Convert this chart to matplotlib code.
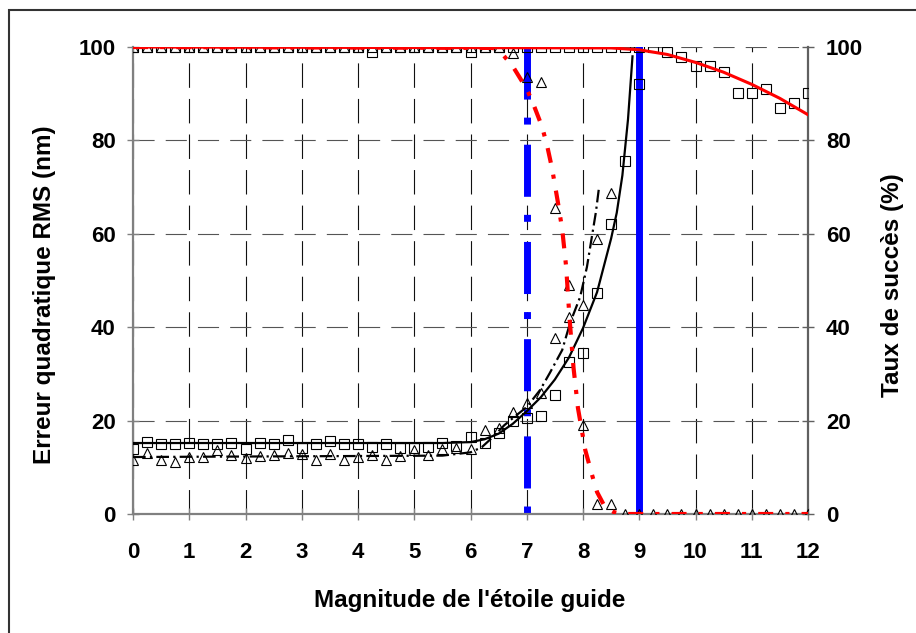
import matplotlib
matplotlib.use("Agg")
import matplotlib.pyplot as plt
from matplotlib.patches import Rectangle

plt.rcParams['font.family'] = ['Liberation Sans', 'DejaVu Sans']
plt.rcParams['font.weight'] = 'bold'

# magnitudes (pas de 0.25)
mag = [0, 0.25, 0.5, 0.75, 1, 1.25, 1.5, 1.75, 2, 2.25, 2.5, 2.75, 3, 3.25, 3.5, 3.75,
       4, 4.25, 4.5, 4.75, 5, 5.25, 5.5, 5.75, 6, 6.25, 6.5, 6.75, 7, 7.25, 7.5, 7.75,
       8, 8.25, 8.5, 8.75, 9, 9.25, 9.5, 9.75, 10, 10.25, 10.5, 10.75, 11, 11.25, 11.5,
       11.75, 12]

# erreur RMS - carrés (0 à 9)
rms_carres = [13.9, 15.4, 15.0, 15.0, 15.3, 15.0, 15.0, 15.3, 13.9, 15.3, 15.0, 15.8,
              14.2, 15.0, 15.6, 15.0, 15.0, 14.4, 15.0, 14.2, 14.2, 14.4, 15.3, 14.6,
              16.4, 15.1, 17.3, 20.0, 20.5, 21.0, 25.5, 32.5, 34.5, 47.3, 62.0, 75.6, 92.0]
# erreur RMS - triangles (0 à 8.5)
rms_triangles = [11.6, 13.1, 11.6, 11.1, 12.2, 12.2, 13.7, 12.6, 12.0, 12.5, 12.6, 13.1,
                 12.9, 11.6, 12.8, 11.6, 12.3, 12.6, 11.6, 12.5, 13.8, 12.6, 13.9, 14.1,
                 13.9, 18.0, 18.4, 21.9, 23.8, 25.9, 37.7, 42.2, 44.7, 58.9, 68.7]

# taux de succès (0 à 12)
succes_carres = [100, 100, 100, 100, 100, 100, 100, 100, 100, 100, 100, 100, 100, 100,
                 100, 100, 100, 99, 100, 100, 100, 100, 100, 100, 99, 100, 100, 100, 100,
                 100, 100, 100, 100, 100, 100, 100, 100, 100, 98.9, 97.9, 95.9, 95.9,
                 94.7, 90.1, 90.1, 91.0, 86.9, 88.0, 90.1]
succes_triangles = [100, 100, 100, 100, 100, 100, 100, 100, 100, 100, 100, 100, 100, 100,
                    100, 100, 100, 100, 100, 100, 100, 100, 100, 100, 100, 100, 100, 98.7,
                    93.6, 92.5, 65.5, 49.0, 19.0, 2.1, 2.1, 0, 0, 0, 0, 0, 0, 0, 0, 0, 0,
                    0, 0, 0, 0]

# courbes d'ajustement
fit_rms_carres_x = [0, 5.5, 6.0, 6.25, 6.5, 6.75, 7.0, 7.25, 7.5, 7.75, 8.0, 8.25, 8.5,
                    8.6, 8.7, 8.8, 8.88]
fit_rms_carres_y = [15.2, 15.2, 15.4, 16.0, 17.2, 19.3, 22.0, 25.0, 28.8, 33.5, 39.8,
                    47.5, 59.0, 64.5, 72.5, 84.5, 98.0]
fit_rms_tri_x = [0, 5.5, 6.0, 6.2, 6.4, 6.6, 6.8, 7.0, 7.24, 7.41, 7.63, 7.77, 7.95,
                 8.07, 8.23, 8.28]
fit_rms_tri_y = [12.2, 12.5, 13.2, 14.3, 16.5, 19.0, 21.0, 22.9, 26.6, 30.2, 35.1, 40.9,
                 46.5, 52.9, 64.7, 69.5]
fit_succ_carres_x = [0, 8.5, 9.0, 9.5, 10.0, 10.5, 11.0, 11.5, 12.0]
fit_succ_carres_y = [100, 99.8, 99.4, 98.4, 96.7, 94.6, 92.0, 89.0, 85.5]
fit_succ_tri_x = [0, 6.4, 6.58, 6.76, 7.0, 7.11, 7.27, 7.36, 7.45, 7.55, 7.63, 7.7, 7.76,
                  7.83, 7.91, 8.04, 8.16, 8.25, 8.39, 8.55, 8.7, 12]
fit_succ_tri_y = [100, 99.8, 98.3, 95.7, 91, 88, 83, 79, 74, 67, 61, 53, 42, 31.5, 22.7,
                  13.7, 8.4, 4.7, 1.5, 0.4, 0, 0]

# magnitudes limites
mag_limite_tri = 7
mag_limite_carres = 9

fig = plt.figure(figsize=(9.16, 6.33), dpi=100)
ax = fig.add_axes([133 / 916, 1 - 514 / 633, 675 / 916, 467 / 633])
ax2 = ax.twinx()

# grille
ax.set_axisbelow(True)
ax.xaxis.grid(True, color='#111111', lw=0.8, ls=(0, (22, 10)))
ax.yaxis.grid(True, color='#555555', lw=0.8, ls=(0, (19, 10)))

# lignes verticales bleues (tracées du haut vers le bas)
ax.plot([mag_limite_tri, mag_limite_tri], [100, 0], color='#0000ff', lw=5,
        ls=(0, (7.5, 2.6, 1.0, 2.9)), zorder=2)
ax.plot([mag_limite_carres, mag_limite_carres], [100, 0], color='#0000ff', lw=5,
        zorder=2)

# RMS
ax.plot(fit_rms_carres_x, fit_rms_carres_y, color='black', lw=1.6, zorder=3)
ax.plot(fit_rms_tri_x, fit_rms_tri_y, color='black', lw=1.6,
        ls=(0, (5.7, 1.9, 1, 1.9)), zorder=3)
ax.plot(mag[:37], rms_carres, ls='none', marker='s', ms=6.5, mfc='none', mec='black',
        mew=0.8, zorder=4)
ax.plot(mag[:35], rms_triangles, ls='none', marker='^', ms=7.5, mfc='none', mec='black',
        mew=0.8, zorder=4)

# taux de succès
ax2.plot(mag, succes_carres, ls='none', marker='s', ms=6.5, mfc='none', mec='black',
         mew=0.8, zorder=3)
ax2.plot(mag, succes_triangles, ls='none', marker='^', ms=7.5, mfc='none', mec='black',
         mew=0.8, zorder=3)
ax2.plot(fit_succ_carres_x, fit_succ_carres_y, color='#ff0000', lw=2.2, zorder=4)
ax2.plot(fit_succ_tri_x, fit_succ_tri_y, color='#ff0000', lw=3,
         ls=(0, (3.6, 2.9, 1.0, 2.9)), zorder=4)

for a in (ax, ax2):
    a.set_xlim(0, 12)
    a.set_ylim(0, 100)
    a.set_yticks([0, 20, 40, 60, 80, 100])
    for s in a.spines.values():
        s.set_visible(False)

ax.set_xticks(range(13))
ax.spines['left'].set_visible(True)
ax.spines['bottom'].set_visible(True)
ax2.spines['right'].set_visible(True)
ax.spines['left'].set_color('#808080')
ax.spines['bottom'].set_color('#808080')
ax2.spines['right'].set_color('#606060')
for s in (ax.spines['left'], ax.spines['bottom'], ax2.spines['right']):
    s.set_linewidth(1.6)

ax.tick_params(axis='x', direction='inout', length=8.5, width=1, color='#808080',
               labelsize=16, pad=16)
ax.tick_params(axis='y', direction='inout', length=9, width=1, color='#808080',
               labelsize=16, pad=8)
ax2.tick_params(axis='y', direction='inout', length=9, width=1, color='#606060',
                labelsize=16, pad=8.5)

fig.text(470 / 916, 1 - 601 / 633, "Magnitude de l'étoile guide", ha='center',
         va='center', fontsize=17.5, fontweight='bold')
fig.text(45 / 916, 1 - 295 / 633, "Erreur quadratique RMS (nm)", ha='center',
         va='center', rotation=90, fontsize=17.5, fontweight='bold')
fig.text(893 / 916, 1 - 285 / 633, "Taux de succès (%)", ha='center', va='center',
         rotation=90, fontsize=17.5, fontweight='bold')

# cadre
fig.add_artist(Rectangle((9 / 916, -0.05), 1.2, 1 - 10 / 633 + 0.05,
                         transform=fig.transFigure, fill=False, lw=1.5, ec='#333333'))

fig.savefig('out.png', dpi=100)
